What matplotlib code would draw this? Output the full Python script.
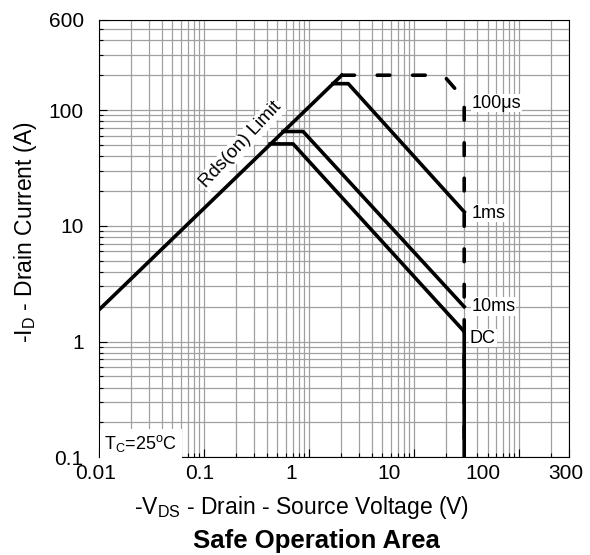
import matplotlib
matplotlib.use("Agg")
import matplotlib.pyplot as plt
import matplotlib.transforms as mtransforms
from matplotlib.ticker import LogLocator, NullFormatter

plt.rcParams['font.family'] = ['Liberation Sans', 'DejaVu Sans']
plt.rcParams['mathtext.fontset'] = 'custom'
plt.rcParams['mathtext.rm'] = 'Liberation Sans'

# curves (V, A)
vds_rds = [0.01, 2.05]
id_rds = [1.88, 200]

vds_100us = [2.05, 19, 30, 30]
id_100us = [200, 200, 124, 0.1]

vds_1ms = [1.69, 2.36, 30]
id_1ms = [169, 169, 13.2]

vds_10ms = [0.566, 0.877, 30]
id_10ms = [65.3, 65.3, 2.0]

vds_dc = [0.426, 0.705, 30, 30]
id_dc = [51, 51, 1.22, 0.1]

curve_labels = ['100\u03bcs', '1ms', '10ms', 'DC']
label_pos = [(35, 115), (35, 12.9), (35, 2.0), (34, 1.07)]

xticks = [0.01, 0.1, 1, 10, 100, 300]
xtick_labels = ['0.01', '0.1', '1', '10', '100', '300']
# the original sheet prints the x labels a bit left of their grid lines
xlabel_shift_px = [-3, -4, -18, -25, -36, -3]
yticks = [0.1, 1, 10, 100, 600]
ytick_labels = ['0.1', '1', '10', '100', '600']

fig = plt.figure(figsize=(5.9, 5.55), dpi=100)
ax = fig.add_axes([0.1678, 0.176, 0.797, 0.788])
ax.set_xscale('log')
ax.set_yscale('log')
ax.set_xlim(0.01, 300)
ax.set_ylim(0.1, 600)

ax.xaxis.set_minor_locator(LogLocator(base=10, subs=range(2, 10), numticks=20))
ax.yaxis.set_minor_locator(LogLocator(base=10, subs=range(2, 10), numticks=20))
ax.xaxis.set_minor_formatter(NullFormatter())
ax.yaxis.set_minor_formatter(NullFormatter())
ax.grid(True, which='both', color='#a0a0a0', lw=0.9)
ax.set_axisbelow(True)

ax.set_xticks(xticks)
ax.set_yticks(yticks)
ax.set_xticklabels(xtick_labels, fontsize=15)
ax.set_yticklabels(ytick_labels, fontsize=15)
ax.tick_params(which='major', direction='in', length=6, width=0.8)
ax.tick_params(which='minor', direction='in', length=3, width=0.8)
ax.tick_params(axis='x', pad=5)
ax.tick_params(axis='y', pad=11)
for lab, dx in zip(ax.get_xticklabels(), xlabel_shift_px):
    lab.set_transform(lab.get_transform() + mtransforms.ScaledTranslation(dx / 100, 0, fig.dpi_scale_trans))

lw = 2.6
ax.plot(vds_rds, id_rds, color='black', lw=lw)
ax.plot(vds_100us, id_100us, color='black', lw=lw, linestyle=(0, (3.5, 6.3)), dash_capstyle='round')
ax.plot(vds_1ms, id_1ms, color='black', lw=lw)
ax.plot(vds_10ms, id_10ms, color='black', lw=lw)
ax.plot(vds_dc, id_dc, color='black', lw=lw)

for txt, (x, y) in zip(curve_labels, label_pos):
    ax.text(x, y, txt, fontsize=13, ha='left', va='center',
            bbox=dict(facecolor='white', edgecolor='none', pad=0.5))

ax.text(0.225, 50, 'Rds(on) Limit', fontsize=13.5, rotation=47, ha='center', va='center',
        rotation_mode='anchor', bbox=dict(facecolor='white', edgecolor='none', pad=1))

ax.text(0.0112, 0.117, r'T$_\mathregular{C}$=25$^\mathregular{o}$C', fontsize=13,
        ha='left', va='baseline', bbox=dict(facecolor='white', edgecolor='none', pad=3))

ax.set_xlabel(r'-V$_\mathregular{DS}$ - Drain - Source Voltage (V)', fontsize=16.5, va='center')
ax.xaxis.set_label_coords(0.43, -0.114)
ax.set_ylabel(r'-I$_\mathregular{D}$ - Drain Current (A)', fontsize=16.5, va='center')
ax.yaxis.set_label_coords(-0.157, 0.515)
fig.text(0.536, 0.025, 'Safe Operation Area', fontsize=18.5, fontweight='bold', ha='center', va='center')

fig.savefig('out.png', dpi=100)
